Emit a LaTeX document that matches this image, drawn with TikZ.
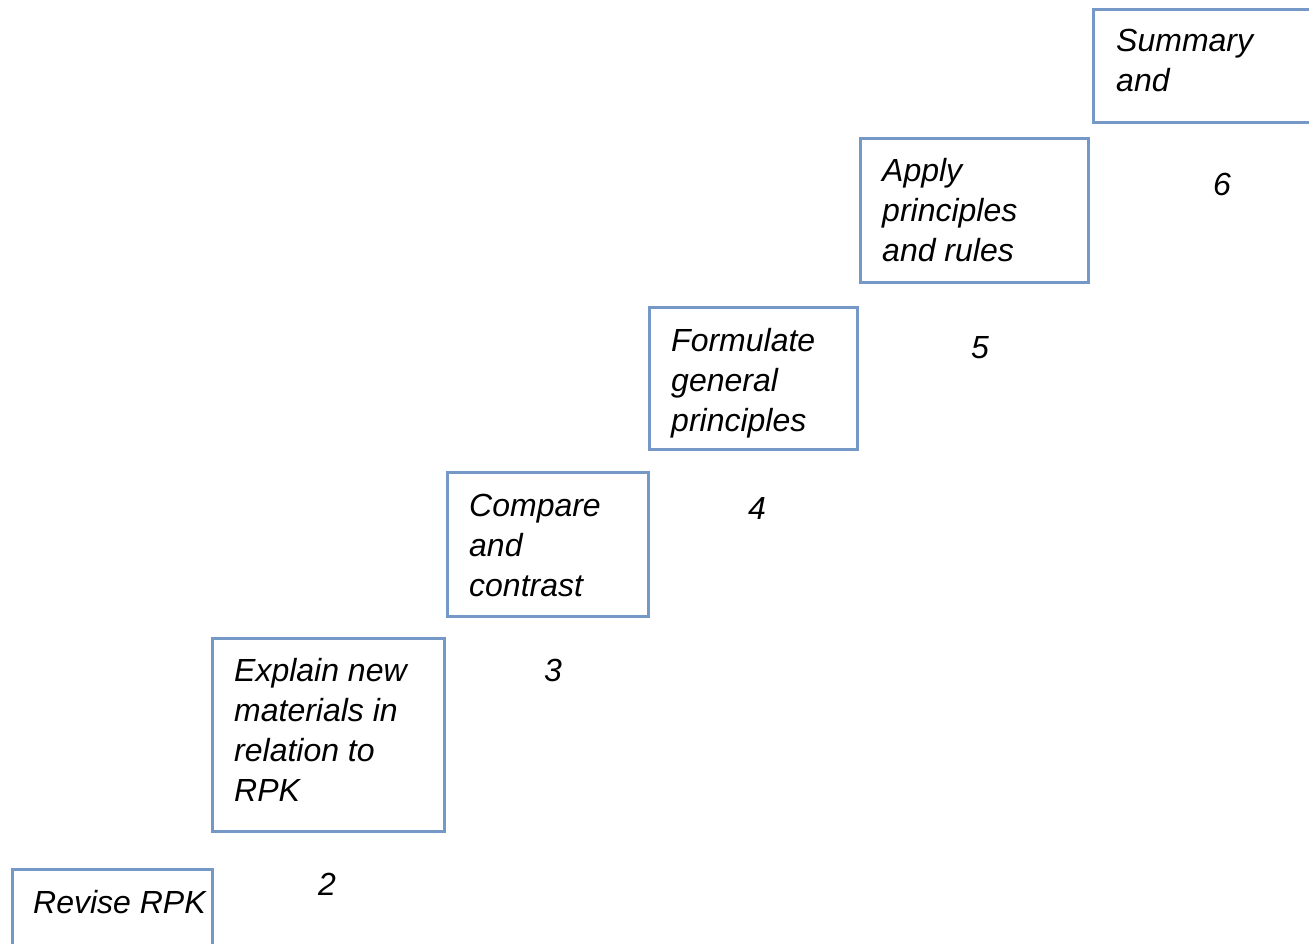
\documentclass[tikz,border=0pt]{standalone}
\usepackage{fontspec}
\setmainfont{Liberation Sans}
\definecolor{stepblue}{RGB}{118,152,198}
\begin{document}
\begin{tikzpicture}[x=1pt,y=-1pt,
  stepbox/.style={draw=stepblue, line width=3pt, fill=white, inner sep=0pt,
    anchor=north west},
  steptext/.style={anchor=north west, inner sep=0pt, align=left,
    font=\fontsize{32}{40}\selectfont\itshape},
  stepnum/.style={anchor=base, inner sep=0pt,
    font=\fontsize{32}{40}\selectfont\itshape}]
\useasboundingbox (0,0) rectangle (1309,944);

% staircase of boxes (anchored at the outer corner of the frame)
\node[stepbox, minimum width=200pt, minimum height=100pt] (b1) at (11,868) {};
\node[stepbox, minimum width=232pt, minimum height=193pt] (b2) at (211,637) {};
\node[stepbox, minimum width=201pt, minimum height=144pt] (b3) at (446,471) {};
\node[stepbox, minimum width=208pt, minimum height=142pt] (b4) at (648,306) {};
\node[stepbox, minimum width=228pt, minimum height=144pt] (b5) at (859,137) {};
\node[stepbox, minimum width=240pt, minimum height=113pt] (b6) at (1092,8) {};

% box texts (first baseline 28pt below the node top)
\node[steptext] (t1) at (33,885) {\strut Revise RPK};
\node[steptext] (t2) at (234,653) {\strut Explain new\\materials in\\relation to\\RPK};
\node[steptext] (t3) at (469,488) {\strut Compare\\and\\contrast};
\node[steptext] (t4) at (671,323) {\strut Formulate\\general\\principles};
\node[steptext] (t5) at (882,153) {\strut Apply\\principles\\and rules};
\node[steptext] (t6) at (1116,23) {\strut Summary\\and};

% step numbers
\node[stepnum] (n2) at (327,895) {2};
\node[stepnum] (n3) at (553,681) {3};
\node[stepnum] (n4) at (757,519) {4};
\node[stepnum] (n5) at (980,358) {5};
\node[stepnum] (n6) at (1222,196) {6};
\end{tikzpicture}
\end{document}
